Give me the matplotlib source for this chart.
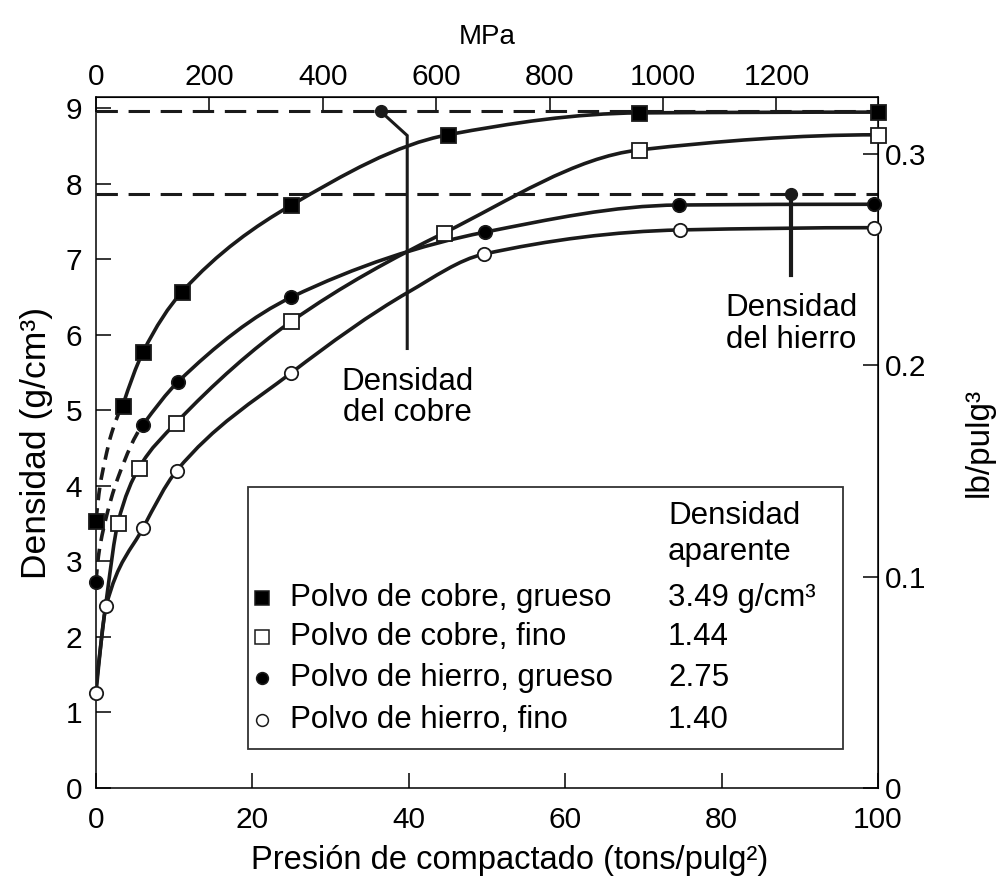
import numpy as np
import matplotlib
matplotlib.use('Agg')
import matplotlib.pyplot as plt
from matplotlib.path import Path
from matplotlib.patches import PathPatch, Rectangle

plt.rcParams['font.family'] = ['Liberation Sans', 'DejaVu Sans']
plt.rcParams['font.size'] = 22

# --- data (presion en tons/pulg2, densidad en g/cm3) ---
cu_grueso_x = [0, 3.4, 6.0, 11.0, 25.0, 45.0, 69.5, 100.0]
cu_grueso_y = [3.54, 5.06, 5.77, 6.57, 7.72, 8.65, 8.94, 8.95]
cu_grueso_dash_x = [0, 0.5, 1.15, 2.0, 3.4]
cu_grueso_dash_y = [3.54, 3.99, 4.34, 4.70, 5.06]

cu_fino_x = [2.8, 5.5, 10.2, 25.0, 44.5, 69.5, 100.0]
cu_fino_y = [3.51, 4.24, 4.83, 6.18, 7.35, 8.45, 8.65]
cu_fino_start_x = [0, 1.4]
cu_fino_start_y = [1.34, 2.55]

fe_grueso_x = [0, 6.0, 10.5, 25.0, 49.7, 74.5, 99.5]
fe_grueso_y = [2.73, 4.81, 5.38, 6.50, 7.36, 7.72, 7.73]
fe_grueso_dash_x = [0, 0.3, 0.93, 2.85, 6.0]
fe_grueso_dash_y = [2.73, 3.06, 3.42, 4.12, 4.81]

fe_fino_x = [0, 1.3, 6.0, 10.3, 25.0, 49.6, 74.7, 99.5]
fe_fino_y = [1.26, 2.41, 3.44, 4.20, 5.50, 7.07, 7.39, 7.42]
# extra point (no marker)
fe_fino_mid_x = 40.0
fe_fino_mid_y = 6.57

dens_cobre = 8.96
dens_hierro = 7.87

labels = ['Polvo de cobre, grueso', 'Polvo de cobre, fino',
          'Polvo de hierro, grueso', 'Polvo de hierro, fino']
aparente = ['3.49 g/cm³', '1.44', '2.75', '1.40']
markers = [('s', 'k'), ('s', 'w'), ('o', 'k'), ('o', 'w')]

TON_TO_MPA = 13.79
G_PER_LB = 28.0
INK = '#1a1a1a'


def smooth_path(x, y):
    # monotone cubic (Fritsch-Carlson) written as bezier segments for Path
    x = np.asarray(x, float)
    y = np.asarray(y, float)
    h = np.diff(x)
    d = np.diff(y) / h
    n = len(x)
    m = np.zeros(n)
    for k in range(1, n - 1):
        if d[k - 1] * d[k] > 0:
            w1 = 2 * h[k] + h[k - 1]
            w2 = h[k] + 2 * h[k - 1]
            m[k] = (w1 + w2) / (w1 / d[k - 1] + w2 / d[k])
    if n > 2:
        m[0] = ((2 * h[0] + h[1]) * d[0] - h[0] * d[1]) / (h[0] + h[1])
        if np.sign(m[0]) != np.sign(d[0]):
            m[0] = 0
        m[-1] = ((2 * h[-1] + h[-2]) * d[-1] - h[-1] * d[-2]) / (h[-1] + h[-2])
        if np.sign(m[-1]) != np.sign(d[-1]):
            m[-1] = 0
    else:
        m[:] = d[0]
    verts = [(x[0], y[0])]
    codes = [Path.MOVETO]
    for i in range(n - 1):
        verts += [(x[i] + h[i] / 3, y[i] + m[i] * h[i] / 3),
                  (x[i + 1] - h[i] / 3, y[i + 1] - m[i + 1] * h[i] / 3),
                  (x[i + 1], y[i + 1])]
        codes += [Path.CURVE4] * 3
    return Path(verts, codes)


def draw_curve(ax, x, y, dashed=False):
    p = PathPatch(smooth_path(x, y), fill=False, edgecolor=INK,
                  linewidth=2.6, capstyle='round', joinstyle='round', zorder=3)
    if dashed:
        p.set_linestyle((0, (3.5, 2.2)))
        p.set_capstyle('butt')
    ax.add_patch(p)


fig = plt.figure(figsize=(9.97, 8.91), dpi=100)
ax = fig.add_axes([0.0963, 0.1156, 0.7843, 0.7755])
ax.set_xlim(0, 100)
ax.set_ylim(0, 9.15)

# lineas de densidad teorica
ax.plot([0, 100], [dens_cobre, dens_cobre], color=INK, lw=2.2,
        dashes=(7, 3.5), zorder=2)
ax.plot([0, 100], [dens_hierro, dens_hierro], color=INK, lw=2.2,
        dashes=(7, 3.5), zorder=2)

# curvas
draw_curve(ax, cu_grueso_dash_x, cu_grueso_dash_y, dashed=True)
draw_curve(ax, cu_grueso_x[1:], cu_grueso_y[1:])
draw_curve(ax, cu_fino_start_x + cu_fino_x, cu_fino_start_y + cu_fino_y)
draw_curve(ax, fe_grueso_dash_x, fe_grueso_dash_y, dashed=True)
draw_curve(ax, fe_grueso_x[1:], fe_grueso_y[1:])
fx = fe_fino_x[:5] + [fe_fino_mid_x] + fe_fino_x[5:]
fy = fe_fino_y[:5] + [fe_fino_mid_y] + fe_fino_y[5:]
draw_curve(ax, fx, fy)

series = [(cu_grueso_x, cu_grueso_y), (cu_fino_x, cu_fino_y),
          (fe_grueso_x, fe_grueso_y), (fe_fino_x, fe_fino_y)]
for (sx, sy), (mk, fc) in zip(series, markers):
    ax.plot(sx, sy, linestyle='none', marker=mk, markersize=10.8 if mk == 's' else 9.6,
            markerfacecolor=fc, markeredgecolor=INK, markeredgewidth=1.3,
            clip_on=False, zorder=5)

# anotaciones de densidad
ax.plot([36.4, 39.8, 39.8], [dens_cobre, 8.64, 5.82], color=INK, lw=2.2,
        zorder=4, solid_joinstyle='miter')
ax.plot([36.4], [dens_cobre], 'o', color=INK, markersize=8.5, zorder=5)
ax.text(39.8, 5.58, 'Densidad\ndel cobre', ha='center', va='top',
        fontsize=22.5, linespacing=1.05)
ax.plot([88.9, 88.9], [dens_hierro, 6.79], color=INK, lw=3.0, zorder=4)
ax.plot([88.9], [dens_hierro], 'o', color=INK, markersize=8.5, zorder=5)
ax.text(88.9, 6.55, 'Densidad\ndel hierro', ha='center', va='top',
        fontsize=22.5, linespacing=1.05)

# caja de leyenda
ax.add_patch(Rectangle((0.194, 0.057), 0.761, 0.378, transform=ax.transAxes,
                       fill=False, edgecolor='#333333', lw=1.3, zorder=6))
ax.text(0.7315, 0.3936, 'Densidad', transform=ax.transAxes, va='center',
        fontsize=22.5)
ax.text(0.7315, 0.3415, 'aparente', transform=ax.transAxes, va='center',
        fontsize=22.5)
rows_y = [0.275, 0.2185, 0.159, 0.0984]
for yy, lab, val, (mk, fc) in zip(rows_y, labels, aparente, markers):
    ax.plot([0.2123], [yy], transform=ax.transAxes, marker=mk, linestyle='none',
            markersize=9.5 if mk == 's' else 8.5, markerfacecolor=fc,
            markeredgecolor=INK, markeredgewidth=1.1, clip_on=False, zorder=7)
    ax.text(0.248, yy, lab, transform=ax.transAxes, va='center', fontsize=22.5)
    ax.text(0.7315, yy, val, transform=ax.transAxes, va='center', fontsize=22.5)

# ejes
for sp in ax.spines.values():
    sp.set_linewidth(1.1)
ax.set_xticks([0, 20, 40, 60, 80, 100])
ax.set_yticks(range(10))
ax.tick_params(direction='in', length=11, width=1.1, labelsize=21.5)
ax.tick_params(axis='x', pad=13)
ax.tick_params(axis='y', pad=10)
ax.set_xlabel('Presión de compactado (tons/pulg²)', fontsize=23.5)
ax.xaxis.set_label_coords(0.529, -0.083)
ax.set_ylabel('Densidad (g/cm³)', fontsize=25.5, labelpad=9)

top = ax.secondary_xaxis('top', functions=(lambda t: t * TON_TO_MPA,
                                           lambda m: m / TON_TO_MPA))
top.set_xticks([0, 200, 400, 600, 800, 1000, 1200])
top.tick_params(direction='in', length=11, width=1.1, labelsize=21.5, pad=4)
top.set_xlabel('MPa', fontsize=20, labelpad=14)

right = ax.secondary_yaxis('right', functions=(lambda g: g / G_PER_LB,
                                               lambda l: l * G_PER_LB))
right.set_yticks([0, 0.1, 0.2, 0.3])
right.set_yticklabels(['0', '0.1', '0.2', '0.3'])
right.tick_params(direction='in', length=11, width=1.1, labelsize=21.5, pad=5)
right.set_ylabel('lb/pulg³', fontsize=24, labelpad=27)

fig.savefig('out.png', dpi=100)
